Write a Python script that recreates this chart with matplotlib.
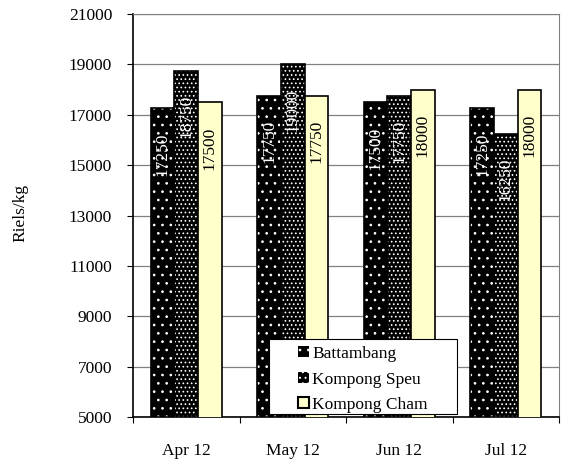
import matplotlib
matplotlib.use("Agg")
import matplotlib.pyplot as plt
import numpy as np
from matplotlib.patches import Patch, Rectangle

# Data
months = ["Apr 12", "May 12", "Jun 12", "Jul 12"]
battambang = [17250, 17750, 17500, 17250]
kompong_speu = [18750, 19000, 17750, 16250]
kompong_cham = [17500, 17750, 18000, 18000]
series_names = ["Battambang", "Kompong Speu", "Kompong Cham"]
y_ticks = [5000, 7000, 9000, 11000, 13000, 15000, 17000, 19000, 21000]

plt.rcParams["font.family"] = ["Liberation Serif", "DejaVu Serif"]
plt.rcParams["font.size"] = 12.5
plt.rcParams["hatch.linewidth"] = 0.7

fig = plt.figure(figsize=(5.66, 4.62), dpi=100)
ax = fig.add_axes([133 / 566, 1 - 417 / 462, 426 / 566, 403 / 462])

x = np.arange(len(months))
width = 1 / 4.5
styles = [
    dict(face="black", hatch="..", text="white"),
    dict(face="black", hatch="....", text="white"),
    dict(face="#FFFFCC", hatch=None, text="black"),
]
all_values = [battambang, kompong_speu, kompong_cham]

for i, (vals, st) in enumerate(zip(all_values, styles)):
    pos = x + (i - 1) * width
    if st["hatch"]:
        ax.bar(pos, vals, width, color=st["face"], edgecolor="white",
               hatch=st["hatch"], linewidth=0, zorder=2)
        ax.bar(pos, vals, width, fill=False, edgecolor="black", linewidth=1.2, zorder=3)
    else:
        ax.bar(pos, vals, width, color=st["face"], edgecolor="black",
               linewidth=1.2, zorder=3)
    for p, v in zip(pos, vals):
        ax.annotate(f"{v}", xy=(p, v), xytext=(0, -33), textcoords="offset points",
                    rotation=90, ha="center", va="center", color=st["text"],
                    fontsize=12.5, zorder=4)

# legend: frame drawn separately so the entries sit centred in the box
box_x0, box_y0 = (269 - 133) / 426, (417 - 414) / 403
box_w, box_h = (457 - 269) / 426, (414 - 339) / 403
ax.add_patch(Rectangle((box_x0, box_y0), box_w, box_h, transform=ax.transAxes,
                       facecolor="white", edgecolor="black", linewidth=0.8,
                       zorder=5, clip_on=False))
proxies = [
    Patch(facecolor="black", edgecolor="white", hatch="..", linewidth=0),
    Patch(facecolor="black", edgecolor="white", hatch="...", linewidth=0),
    Patch(facecolor="#FFFFCC", edgecolor="black", linewidth=1.5),
]
leg = ax.legend(proxies, series_names, loc="center",
                bbox_to_anchor=(box_x0 + box_w / 2, box_y0 + box_h / 2 - 3 / 403),
                frameon=False, handlelength=0.6, handleheight=0.6,
                handletextpad=0.2, borderpad=0, labelspacing=0.55,
                fontsize=12.5)
leg.set_zorder(6)

ax.set_xlim(-0.5, len(months) - 0.5)
ax.set_ylim(5000, 21000)
ax.set_yticks(y_ticks)
ax.set_xticks(x)
ax.set_xticklabels(months)
ax.tick_params(axis="x", length=0, pad=19)
ax.set_xticks(np.arange(len(months) + 1) - 0.5, minor=True)
ax.tick_params(axis="x", which="minor", length=4, direction="out", width=0.8)
ax.tick_params(axis="y", length=4, direction="out", width=0.8, pad=11)
ax.yaxis.grid(True, color="#808080", linewidth=0.9, zorder=0)
ax.set_axisbelow(True)

for side in ["top", "right"]:
    ax.spines[side].set_color("#808080")
for side in ["left", "bottom"]:
    ax.spines[side].set_color("black")
    ax.spines[side].set_linewidth(1.2)

fig.text(20 / 566, 1 - 213 / 462, "Riels/kg", rotation=90, ha="center", va="center",
         fontsize=12.5)

fig.savefig("out.png", dpi=100)
